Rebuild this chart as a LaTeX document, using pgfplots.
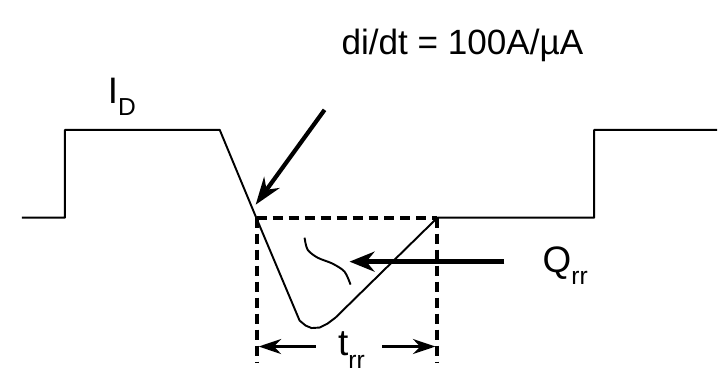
\documentclass[border=0pt]{standalone}
\usepackage{pgfplots}
\pgfplotsset{compat=1.18}
\usepackage{fontspec}
\setmainfont{Liberation Sans}
\usetikzlibrary{arrows.meta}
\newcommand{\sub}[1]{\raisebox{-0.35em}{\fontsize{14}{14}\selectfont #1}}
\begin{document}
\begin{tikzpicture}
\begin{axis}[
    width=14.36cm, height=7.64cm,
    scale only axis,
    xmin=0, xmax=718, ymin=0, ymax=382,
    axis lines=none,
    clip=false,
]
\path (rel axis cs:0,0) rectangle (rel axis cs:1,1);

% diode current waveform
\addplot[black, line width=1.1pt, line join=round] coordinates {
    (22,164) (65,164) (65,252) (220,252) (257,163)
    (300,61) (306,56) (312,53.5) (320,54) (328,58) (336,64)
    (438,164) (595,164) (595,252) (718,252)
};

% dashed t_rr box
\addplot[black, line width=2.2pt, dash pattern=on 0.2cm off 0.12cm] coordinates {(257,164) (438,164)};
\addplot[black, line width=2.2pt, dash pattern=on 0.2cm off 0.12cm] coordinates {(257,164) (257,19)};
\addplot[black, line width=2.2pt, dash pattern=on 0.2cm off 0.12cm] coordinates {(438,164) (438,19)};

% t_rr arrows
\addplot[black, line width=1.8pt, -{Stealth[length=0.45cm,width=0.3cm]}] coordinates {(316,35) (259,35)};
\addplot[black, line width=1.8pt, -{Stealth[length=0.45cm,width=0.3cm]}] coordinates {(383,35) (436,35)};

% Q_rr arrow
\addplot[black, line width=2.8pt, -{Stealth[length=0.5cm,width=0.4cm]}] coordinates {(505,120) (350,120)};

% di/dt arrow
\addplot[black, line width=2.4pt, -{Stealth[length=0.55cm,width=0.38cm]}] coordinates {(325,272) (256,177)};

% squiggle
\addplot[black, line width=1.1pt, smooth] coordinates {
    (305,144) (308,132) (318,124) (333,118) (345,110) (351,97)
};

\node[font=\fontsize{20}{24}\selectfont] at (axis cs:463,337) {di/dt = 100A/µA};
\node[font=\fontsize{21}{24}\selectfont] at (axis cs:122,285) {I\sub{D}};
\node[font=\fontsize{21}{24}\selectfont] at (axis cs:566,116) {Q\sub{rr}};
\node[font=\fontsize{21}{24}\selectfont] at (axis cs:352,31) {t\sub{rr}};
\end{axis}
\end{tikzpicture}
\end{document}
